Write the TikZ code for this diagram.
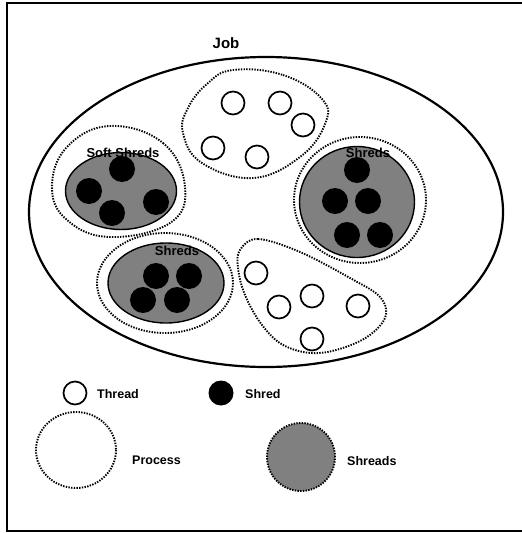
\documentclass[tikz,border=0pt]{standalone}
\usepackage{fontspec}
\setmainfont{Liberation Sans}
\usetikzlibrary{shapes.geometric}

\begin{document}
\begin{tikzpicture}[x=1pt, y=-1pt,
    thread/.style={circle, draw=black, line width=1.7pt, fill=white, minimum size=23pt, inner sep=0pt},
    shred/.style={circle, fill=black, minimum size=26pt, inner sep=0pt},
    shreadsbox/.style={ellipse, draw=black, line width=1.4pt, fill=black!50, inner sep=0pt},
    process/.style={draw=black, line width=1.9pt, dash pattern=on 1.4pt off 1.3pt},
    tagnode/.style={font=\bfseries\fontsize{13}{15}\selectfont, inner sep=0pt},
    legendtext/.style={anchor=west, inner sep=0pt, font=\bfseries\fontsize{12.5}{14}\selectfont}
]
    \useasboundingbox (0,0) rectangle (522,533);
    % --- Frame ---
    \draw[line width=1.6pt] (522,3) -- (7,3) -- (7,531) -- (522,531);

    % --- Job ---
    \node[font=\bfseries\fontsize{15}{17}\selectfont, inner sep=0pt] (job) at (226,43) {Job};
    \node[ellipse, draw=black, line width=2.2pt, minimum width=474pt, minimum height=310pt, inner sep=0pt] (jobarea) at (266,212) {};

    % --- Processes ---
    % top process with threads
    \draw[process] plot[smooth cycle, tension=0.7] coordinates {(233,70) (283,75) (322,99) (325,124) (300,157) (253,178) (202,163) (183,133) (188,108) (207,84)};
    \node[thread] (t1) at (233,103) {};
    \node[thread] (t2) at (280,103) {};
    \node[thread] (t3) at (303,125) {};
    \node[thread] (t4) at (213,148) {};
    \node[thread] (t5) at (257,157) {};

    % soft shreds process
    \draw[process] plot[smooth cycle, tension=0.7] coordinates {(110,126) (163,143) (185,187) (170,223) (110,237) (67,220) (52,187) (67,147)};
    \node[shreadsbox, minimum width=111pt, minimum height=77pt] (soft) at (121,191) {};
    \node[tagnode] (softlabel) at (123,153) {Soft Shreds};
    \node[shred] (s1) at (122,169) {};
    \node[shred] (s2) at (89,191) {};
    \node[shred] (s3) at (112,213) {};
    \node[shred] (s4) at (156,202) {};

    % right shreds process
    \draw[process] (360,200) ellipse [x radius=66, y radius=63];
    \node[shreadsbox, minimum width=115pt, minimum height=111pt] (right) at (357,202) {};
    \node[tagnode] (rightlabel) at (368,153) {Shreds};
    \node[shred] (r1) at (357,170) {};
    \node[shred] (r2) at (335,201) {};
    \node[shred] (r3) at (368,201) {};
    \node[shred] (r4) at (347,235) {};
    \node[shred] (r5) at (380,235) {};

    % bottom left shreds process
    \draw[process] (165,283) ellipse [x radius=68, y radius=50];
    \node[shreadsbox, minimum width=116pt, minimum height=80pt] (left) at (166,283) {};
    \node[tagnode] (leftlabel) at (177,251) {Shreds};
    \node[shred] (l1) at (156,276) {};
    \node[shred] (l2) at (189,276) {};
    \node[shred] (l3) at (143,300) {};
    \node[shred] (l4) at (177,300) {};

    % bottom right process with threads
    \draw[process] plot[smooth cycle, tension=0.6] coordinates {(240,250) (258,239) (300,252) (350,278) (380,297) (385,318) (362,340) (320,353) (285,346) (262,325) (245,295) (238,268)};
    \node[thread] (b1) at (256,273) {};
    \node[thread] (b2) at (279,307) {};
    \node[thread] (b3) at (312,296) {};
    \node[thread] (b4) at (358,306) {};
    \node[thread] (b5) at (312,339) {};

    % --- Legend ---
    \node[thread] (keythread) at (75,393) {};
    \node[legendtext] (keythreadtext) at (97,394) {Thread};
    \node[shred, minimum size=25pt] (keyshred) at (221,393) {};
    \node[legendtext] (keyshredtext) at (245,394) {Shred};
    \draw[process] (76,450) ellipse [x radius=40, y radius=38];
    \node[legendtext] (keyprocesstext) at (132,460) {Process};
    \node[circle, fill=black!50, process, minimum size=68pt, inner sep=0pt] (keyshreads) at (301,457) {};
    \node[legendtext] (keyshreadstext) at (347,461) {Shreads};
\end{tikzpicture}
\end{document}
